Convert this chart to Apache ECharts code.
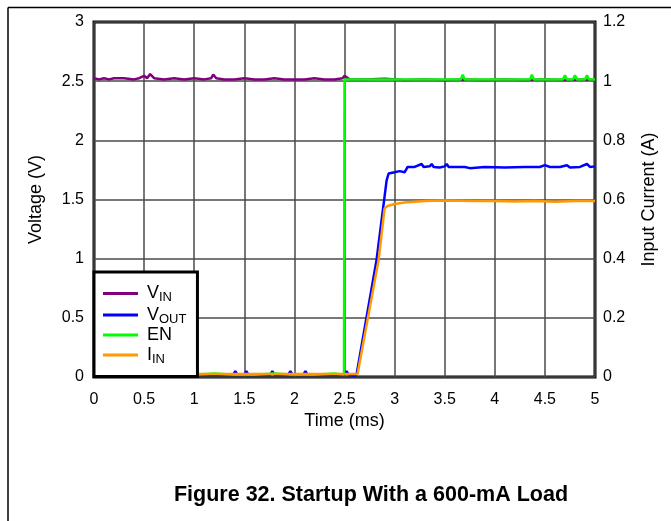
<!DOCTYPE html>
<html>
<head>
<meta charset="utf-8">
<script src="https://cdn.jsdelivr.net/npm/echarts@6/dist/echarts.min.js"></script>
<style>
  html, body { margin: 0; padding: 0; background: #fff; }
  #chart { width: 671px; height: 521px; }
</style>
</head>
<body>
<div id="chart"></div>
<script>
// tick labels
const timeTicks = [0, 0.5, 1, 1.5, 2, 2.5, 3, 3.5, 4, 4.5, 5];
const voltTicks = [0, 0.5, 1, 1.5, 2, 2.5, 3];
const ampTicks = [0, 0.2, 0.4, 0.6, 0.8, 1, 1.2];

// [time ms, volts]
const vinData = [
  [0, 2.525], [0.05, 2.515], [0.1, 2.525], [0.15, 2.515], [0.2, 2.525], [0.3, 2.525], [0.4, 2.515],
  [0.45, 2.525], [0.5, 2.545], [0.53, 2.525], [0.56, 2.56], [0.6, 2.525], [0.7, 2.515], [0.8, 2.525],
  [0.9, 2.515], [1.0, 2.525], [1.1, 2.515], [1.17, 2.525], [1.19, 2.555], [1.22, 2.525], [1.3, 2.515],
  [1.4, 2.515], [1.5, 2.525], [1.6, 2.515], [1.7, 2.515], [1.8, 2.525], [1.9, 2.515], [2.0, 2.515],
  [2.1, 2.515], [2.2, 2.525], [2.3, 2.515], [2.4, 2.515], [2.48, 2.525], [2.5, 2.545], [2.55, 2.515],
  [2.7, 2.515], [2.9, 2.52], [3.1, 2.51], [3.3, 2.515], [3.5, 2.51], [3.7, 2.515], [3.9, 2.51],
  [4.1, 2.515], [4.3, 2.51], [4.5, 2.515], [4.7, 2.51], [4.9, 2.515], [5.0, 2.51]
];
const voutData = [
  [0, 0.02], [0.3, 0.02], [0.6, 0.02], [0.9, 0.02], [1.2, 0.02], [1.39, 0.02], [1.41, 0.05], [1.43, 0.02],
  [1.5, 0.02], [1.52, 0.05], [1.54, 0.02], [1.76, 0.02], [1.78, 0.05], [1.8, 0.02], [1.94, 0.02],
  [1.96, 0.05], [1.98, 0.02], [2.09, 0.02], [2.11, 0.05], [2.13, 0.02], [2.5, 0.02], [2.52, 0.05],
  [2.54, 0.02], [2.6, 0.01], [2.62, 0.02], [2.82, 0.99], [2.92, 1.66], [2.94, 1.72], [3.0, 1.73],
  [3.05, 1.74], [3.1, 1.73], [3.13, 1.775], [3.2, 1.775], [3.27, 1.8], [3.29, 1.775], [3.35, 1.78],
  [3.37, 1.8], [3.39, 1.775], [3.45, 1.77], [3.5, 1.78], [3.52, 1.8], [3.54, 1.775], [3.7, 1.775],
  [3.75, 1.765], [3.9, 1.775], [4.1, 1.77], [4.3, 1.775], [4.45, 1.775], [4.5, 1.79], [4.55, 1.775],
  [4.65, 1.775], [4.72, 1.79], [4.75, 1.77], [4.85, 1.775], [4.92, 1.8], [4.95, 1.775], [5.0, 1.78]
];
const enData = [
  [0, 0.02], [0.2, 0.02], [0.4, 0.03], [0.6, 0.02], [0.8, 0.02], [1.0, 0.02], [1.2, 0.03], [1.4, 0.02],
  [1.6, 0.02], [1.8, 0.03], [2.0, 0.02], [2.2, 0.02], [2.4, 0.03], [2.495, 0.02], [2.5, 2.515],
  [2.7, 2.515], [2.9, 2.515], [3.1, 2.515], [3.3, 2.515], [3.5, 2.515], [3.66, 2.515], [3.68, 2.555],
  [3.7, 2.515], [3.9, 2.515], [4.1, 2.515], [4.35, 2.515], [4.37, 2.555], [4.39, 2.515], [4.6, 2.515],
  [4.68, 2.515], [4.7, 2.55], [4.72, 2.515], [4.78, 2.515], [4.8, 2.55], [4.82, 2.515], [4.9, 2.515],
  [4.92, 2.55], [4.94, 2.515], [5.0, 2.515]
];
// [time ms, amps]
const iinData = [
  [0, 0.01], [0.5, 0.01], [1.0, 0.01], [1.5, 0.01], [2.0, 0.01], [2.5, 0.01], [2.63, 0.01],
  [2.84, 0.395], [2.9, 0.57], [2.93, 0.578], [3.0, 0.585], [3.1, 0.59], [3.3, 0.595], [3.5, 0.597],
  [3.8, 0.595], [4.0, 0.595], [4.2, 0.593], [4.4, 0.595], [4.6, 0.592], [4.8, 0.595], [5.0, 0.595]
];

const chart = echarts.init(document.getElementById('chart'));
const font = 'Liberation Sans, Arial, sans-serif';
const gridLine = { show: true, lineStyle: { color: '#4a4a4a', width: 1.5 } };
const nameStyle = { fontFamily: font, fontSize: 18, color: '#000' };
const labelBase = { fontFamily: font, fontSize: 16, color: '#000' };

function lineSeries(name, data, color, yIndex) {
  return {
    name: name, type: 'line', data: data, yAxisIndex: yIndex,
    showSymbol: false, animation: false,
    lineStyle: { color: color, width: 2.5 }, itemStyle: { color: color }
  };
}

chart.setOption({
  animation: false,
  grid: { left: 94, right: 76, top: 22, bottom: 144, show: true, borderColor: '#000', borderWidth: 3 },
  xAxis: {
    type: 'value', min: 0, max: 5, interval: 0.5,
    name: 'Time (ms)', nameLocation: 'middle', nameGap: 35, nameMoveOverlap: false,
    nameTextStyle: nameStyle,
    axisLine: { show: false }, axisTick: { show: false }, splitLine: gridLine,
    axisLabel: Object.assign({ margin: 15,
      formatter: v => timeTicks.indexOf(v) >= 0 ? String(v) : '' }, labelBase)
  },
  yAxis: [{
    type: 'value', min: 0, max: 3, interval: 0.5,
    name: 'Voltage (V)', nameLocation: 'middle', nameGap: 49, nameRotate: 90, nameMoveOverlap: false,
    nameTextStyle: nameStyle,
    axisLine: { show: false }, axisTick: { show: false }, splitLine: gridLine,
    axisLabel: Object.assign({ margin: 10,
      formatter: v => voltTicks.indexOf(v) >= 0 ? String(v) : '' }, labelBase)
  }, {
    type: 'value', min: 0, max: 1.2, interval: 0.2, position: 'right',
    name: 'Input Current (A)', nameLocation: 'middle', nameGap: 45, nameRotate: 90, nameMoveOverlap: false,
    nameTextStyle: nameStyle,
    axisLine: { show: false }, axisTick: { show: false }, splitLine: { show: false },
    axisLabel: Object.assign({ margin: 8,
      formatter: v => {
        const r = Math.round(v * 10) / 10;
        return ampTicks.indexOf(r) >= 0 ? String(r) : '';
      } }, labelBase)
  }],
  legend: {
    orient: 'vertical', left: 94, top: 272,
    backgroundColor: '#fff', borderColor: '#000', borderWidth: 3, borderRadius: 0,
    padding: [11, 11, 11, 9], itemGap: 0.5,
    icon: 'rect', itemWidth: 35, itemHeight: 3,
    data: ['VIN', 'VOUT', 'EN', 'IIN'],
    formatter: function (name) {
      if (name === 'VIN') return '{m|V}{s|IN}';
      if (name === 'VOUT') return '{m|V}{s|OUT}';
      if (name === 'IIN') return '{m|I}{s|IN}';
      return '{m|' + name + '}';
    },
    textStyle: {
      fontFamily: font, color: '#000', padding: [0, 0, 0, 4],
      rich: {
        m: { fontFamily: font, fontSize: 18, color: '#000', lineHeight: 20 },
        s: { fontFamily: font, fontSize: 13, color: '#000', lineHeight: 13, padding: [8, 0, 0, 0] }
      }
    }
  },
  graphic: [
    { type: 'line', shape: { x1: 8, y1: 7.5, x2: 671, y2: 7.5 }, style: { stroke: '#000', lineWidth: 1.5 } },
    { type: 'line', shape: { x1: 8, y1: 7.5, x2: 8, y2: 521 }, style: { stroke: '#000', lineWidth: 1.5 } },
    { type: 'text', x: 371, y: 495, style: { text: 'Figure 32. Startup With a 600-mA Load', fill: '#000',
      font: 'bold 21.5px Liberation Sans, Arial, sans-serif', textAlign: 'center', textVerticalAlign: 'middle' } }
  ],
  series: [
    lineSeries('VIN', vinData, '#800080', 0),
    lineSeries('VOUT', voutData, '#0000ff', 0),
    lineSeries('EN', enData, '#00ff00', 0),
    lineSeries('IIN', iinData, '#ff9900', 1)
  ]
});
</script>
</body>
</html>
